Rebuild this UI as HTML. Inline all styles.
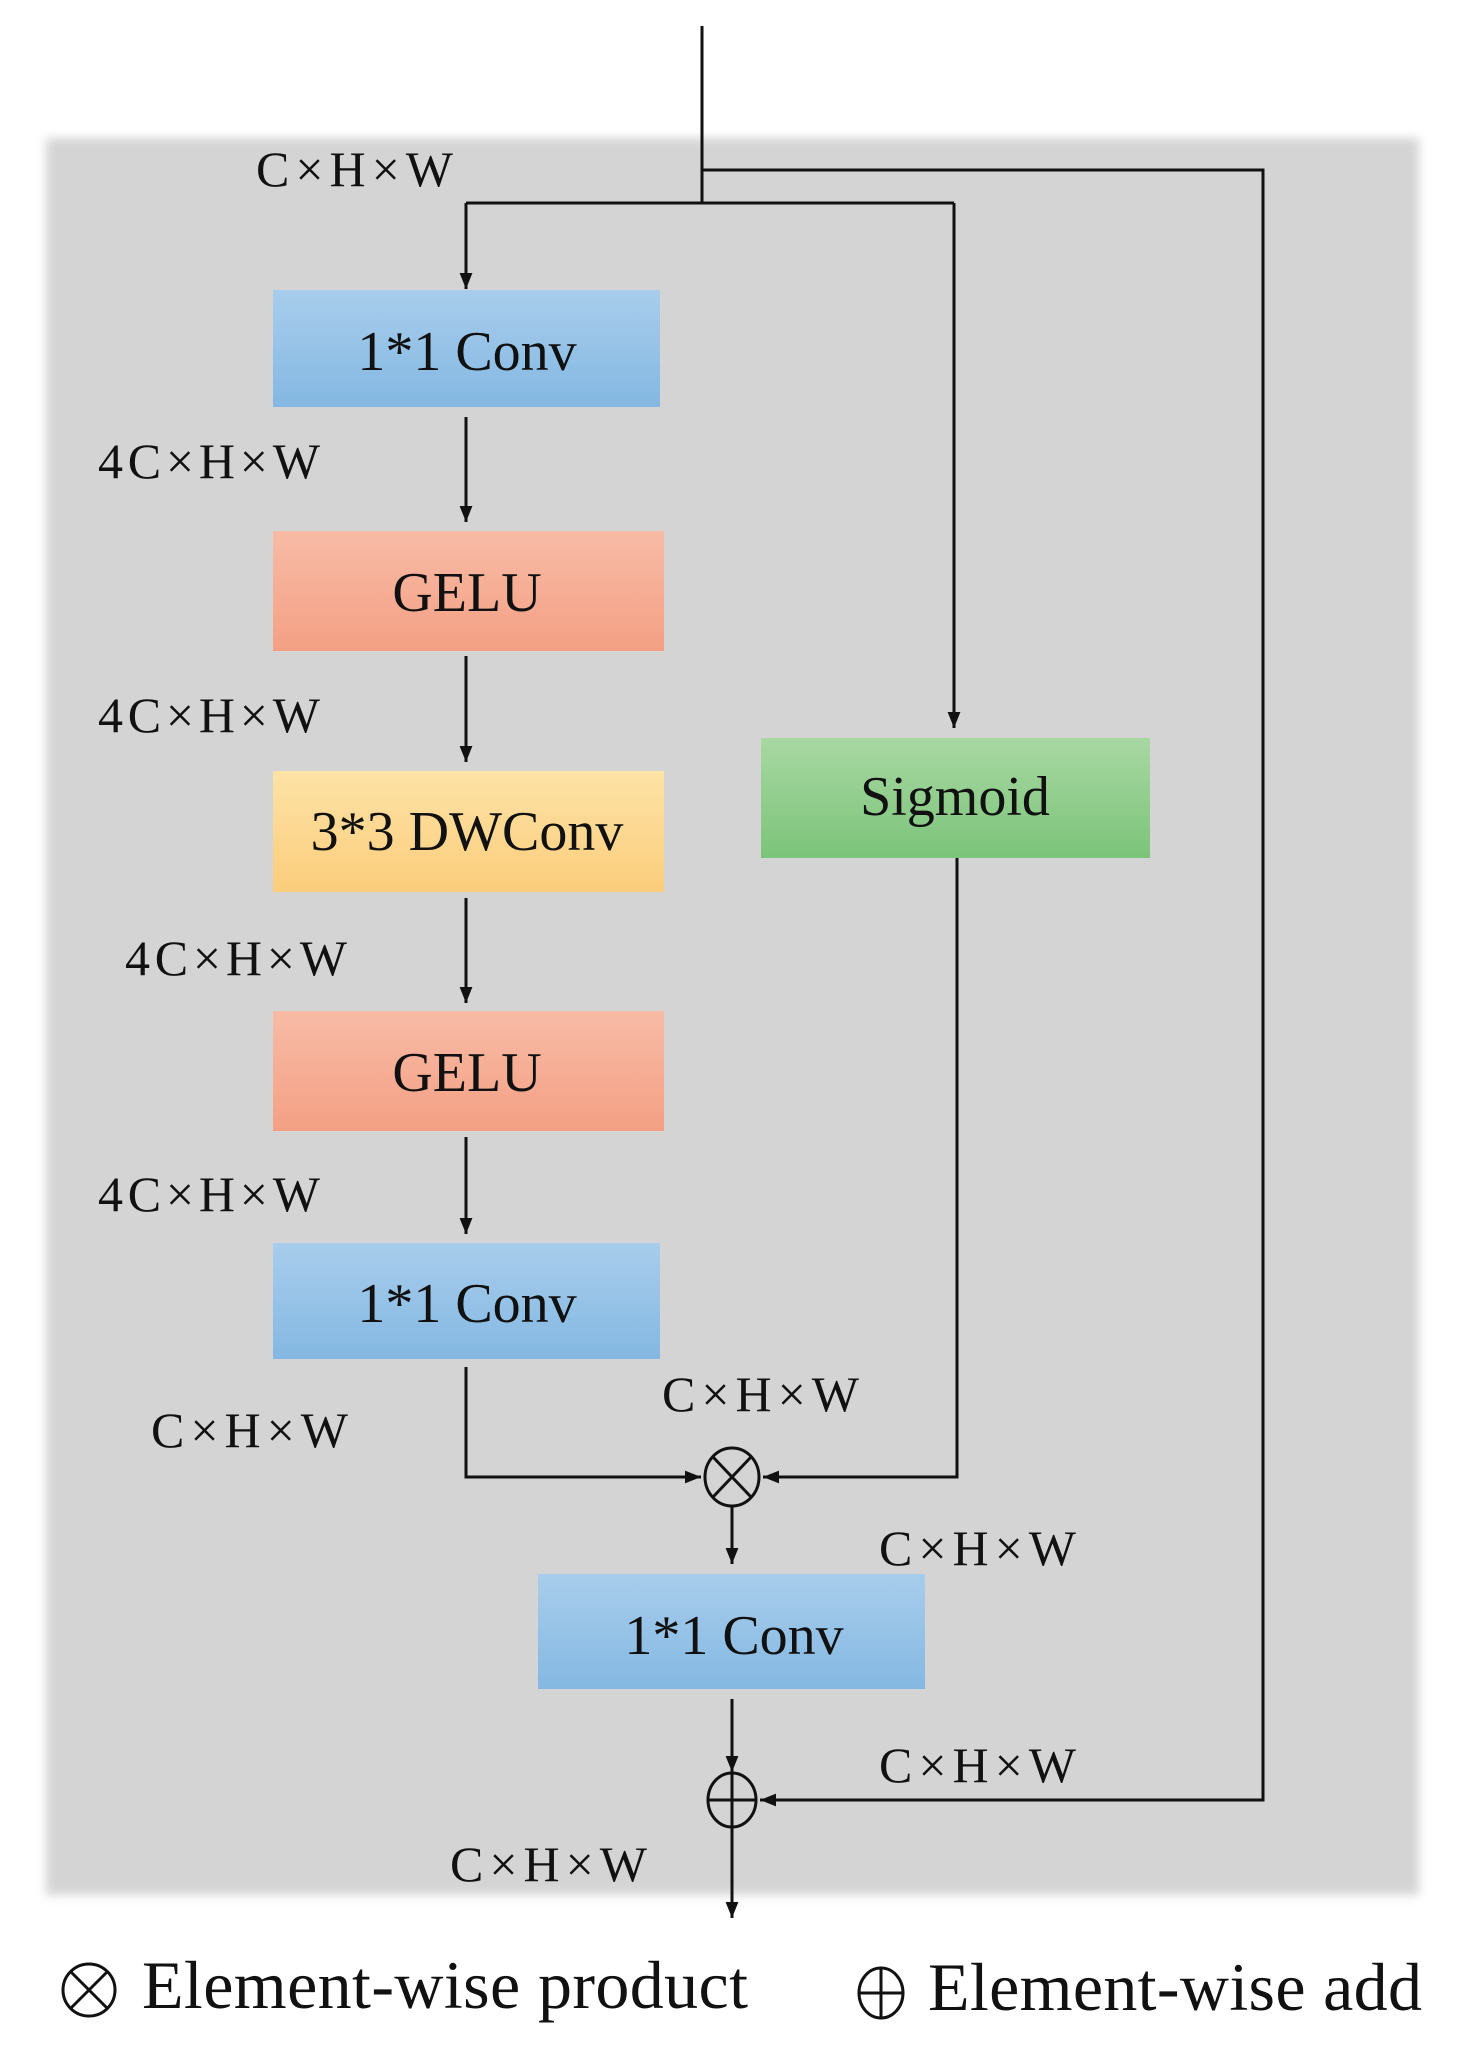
<!DOCTYPE html>
<html><head><meta charset="utf-8"><style>
html,body{margin:0;padding:0;background:#fff;}
svg{display:block;}
text{font-family:"Liberation Serif",serif;fill:#111;}
</style></head><body>
<svg width="1469" height="2068" viewBox="0 0 1469 2068" xmlns="http://www.w3.org/2000/svg">
<defs>
<linearGradient id="gb" x1="0" y1="0" x2="0" y2="1"><stop offset="0" stop-color="#a8cdec"/><stop offset="1" stop-color="#84b8e2"/></linearGradient>
<linearGradient id="gr" x1="0" y1="0" x2="0" y2="1"><stop offset="0" stop-color="#f8bba6"/><stop offset="1" stop-color="#f4a084"/></linearGradient>
<linearGradient id="gy" x1="0" y1="0" x2="0" y2="1"><stop offset="0" stop-color="#fde3a6"/><stop offset="1" stop-color="#fbcd7c"/></linearGradient>
<linearGradient id="gg" x1="0" y1="0" x2="0" y2="1"><stop offset="0" stop-color="#a8d8a2"/><stop offset="1" stop-color="#7cc47a"/></linearGradient>
<filter id="bl"><feGaussianBlur stdDeviation="5"/></filter>
<marker id="ar" markerWidth="10" markerHeight="10" refX="9" refY="5" orient="auto" markerUnits="userSpaceOnUse"><path d="M0,0 L10,5 L0,10 z" fill="#111"/></marker>
<marker id="ah" viewBox="0 0 10 10" markerWidth="16" markerHeight="16" refX="10" refY="5" orient="auto" markerUnits="userSpaceOnUse"><path d="M0,1 L10,5 L0,9 z" fill="#111"/></marker>
</defs>
<rect x="46" y="138" width="1373" height="1757" fill="#d4d4d4" filter="url(#bl)"/>
<g stroke="#111" stroke-width="3" fill="none">
<polyline points="702,26 702,203"/>
<polyline points="702,170 1263,170 1263,1800 760,1800" marker-end="url(#ah)"/>
<polyline points="466,203 954,203"/>
<polyline points="466,203 466,289" marker-end="url(#ah)"/>
<polyline points="954,203 954,728" marker-end="url(#ah)"/>
<polyline points="466,417 466,522" marker-end="url(#ah)"/>
<polyline points="466,656 466,762" marker-end="url(#ah)"/>
<polyline points="466,898 466,1003" marker-end="url(#ah)"/>
<polyline points="466,1137 466,1234" marker-end="url(#ah)"/>
<polyline points="957,858 957,1477 763,1477" marker-end="url(#ah)"/>
<polyline points="466,1367 466,1477 701,1477" marker-end="url(#ah)"/>
<polyline points="732,1506 732,1564" marker-end="url(#ah)"/>
<polyline points="732,1699 732,1772" marker-end="url(#ah)"/>
<polyline points="732,1827 732,1918" marker-end="url(#ah)"/>
<ellipse cx="732" cy="1477" rx="27" ry="29"/>
<line x1="713" y1="1457" x2="751" y2="1497"/><line x1="751" y1="1457" x2="713" y2="1497"/>
<ellipse cx="732" cy="1800" rx="24" ry="27"/>
<line x1="708" y1="1800" x2="756" y2="1800"/><line x1="732" y1="1773" x2="732" y2="1827"/>
</g>
<rect x="273" y="290" width="387" height="117" fill="url(#gb)"/>
<rect x="273" y="531" width="391" height="120" fill="url(#gr)"/>
<rect x="273" y="771" width="391" height="121" fill="url(#gy)"/>
<rect x="273" y="1011" width="391" height="120" fill="url(#gr)"/>
<rect x="273" y="1243" width="387" height="116" fill="url(#gb)"/>
<rect x="761" y="738" width="389" height="120" fill="url(#gg)"/>
<rect x="538" y="1574" width="387" height="115" fill="url(#gb)"/>
<g font-size="56" text-anchor="middle">
<text x="467" y="370">1*1 Conv</text>
<text x="467" y="611">GELU</text>
<text x="467" y="850">3*3 DWConv</text>
<text x="467" y="1091">GELU</text>
<text x="467" y="1322">1*1 Conv</text>
<text x="955" y="815">Sigmoid</text>
<text x="734" y="1654">1*1 Conv</text>
</g>
<g font-size="50">
<text x="256" y="186" textLength="197">C×H×W</text>
<text x="98" y="478" textLength="222">4C×H×W</text>
<text x="98" y="732" textLength="222">4C×H×W</text>
<text x="125" y="975" textLength="222">4C×H×W</text>
<text x="98" y="1211" textLength="222">4C×H×W</text>
<text x="151" y="1447" textLength="197">C×H×W</text>
<text x="662" y="1411" textLength="197">C×H×W</text>
<text x="879" y="1565" textLength="197">C×H×W</text>
<text x="879" y="1782" textLength="197">C×H×W</text>
<text x="450" y="1881" textLength="197">C×H×W</text>
</g>
<g stroke="#111" stroke-width="3" fill="none">
<circle cx="89" cy="1990" r="26"/>
<line x1="71" y1="1972" x2="107" y2="2008"/><line x1="107" y1="1972" x2="71" y2="2008"/>
<ellipse cx="881" cy="1993" rx="22" ry="25"/>
<line x1="859" y1="1993" x2="903" y2="1993"/><line x1="881" y1="1968" x2="881" y2="2018"/>
</g>
<g font-size="68">
<text x="142" y="2008" textLength="606">Element-wise product</text>
<text x="928" y="2010" textLength="494">Element-wise add</text>
</g>
</svg>
</body></html>
